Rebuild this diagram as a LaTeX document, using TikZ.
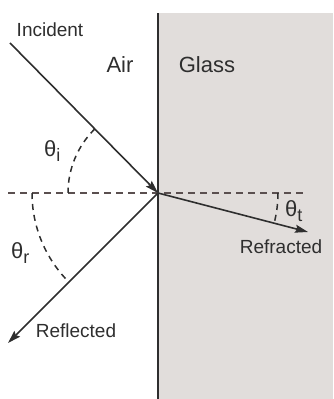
\documentclass[tikz,border=0pt]{standalone}
\usepackage{fontspec}
\setmainfont{Liberation Sans}
\usetikzlibrary{arrows.meta}
\definecolor{glassfill}{HTML}{E1DDDB}
\definecolor{ink}{HTML}{2E2E2E}
\definecolor{dashc}{HTML}{5A4F4F}
\tikzset{
  ray/.style={draw=ink, line width=1.6pt, -{Stealth[length=13pt,width=8pt,inset=2pt]}},
  normalline/.style={draw=dashc, line width=1.5pt, dash pattern=on 7pt off 5pt},
  anglearc/.style={draw=ink, line width=1.5pt, dash pattern=on 6pt off 5pt},
  lbl/.style={text=ink, font=\fontsize{19}{22}\selectfont, inner sep=0pt},
  big/.style={text=ink, font=\fontsize{22}{26}\selectfont, inner sep=0pt},
  ang/.style={text=ink, font=\fontsize{22}{26}\selectfont, inner sep=0pt}
}
\begin{document}
\begin{tikzpicture}[x=1pt,y=1pt]
\useasboundingbox (0,0) rectangle (333,399);
% glass
\fill[glassfill] (158,0) rectangle (333,386);
\draw[ink, line width=2pt] (158,0) -- (158,386);
% points
\coordinate (O) at (158,206);
\coordinate (inc) at (10,356);
\coordinate (refl) at (8,56);
\coordinate (refr) at (308,167);
\coordinate (nl) at (8,206);
\coordinate (nr) at (303,206);
% normal
\draw[normalline] (nl) -- (nr);
% rays
\draw[ray] (inc) -- (O);
\draw[ray] (O) -- (refl);
\draw[ray] (O) -- (refr);
% arcs
\draw[anglearc] (O) ++(134.6:90) arc[start angle=134.6,end angle=180,radius=90];
\draw[anglearc] (O) ++(180:126) arc[start angle=180,end angle=225,radius=126];
\draw[anglearc] (O) ++(0:120) arc[start angle=0,end angle=-14.6,radius=120];
% labels
\node[lbl] (tinc) at (50,369) {Incident};
\node[big] (tair) at (120,334) {Air};
\node[big] (tglass) at (207,334) {Glass};
\node[lbl] (trefr) at (281,152) {Refracted};
\node[lbl] (trefl) at (76,68) {Reflected};
\node[ang, anchor=base west] (thi) at (44,242) {θ\raisebox{-5pt}{\fontsize{18}{20}\selectfont i}};
\node[ang, anchor=base west] (thr) at (11,140) {θ\raisebox{-5pt}{\fontsize{18}{20}\selectfont r}};
\node[ang, anchor=base west] (tht) at (285,182) {θ\raisebox{-5pt}{\fontsize{18}{20}\selectfont t}};
\end{tikzpicture}
\end{document}
